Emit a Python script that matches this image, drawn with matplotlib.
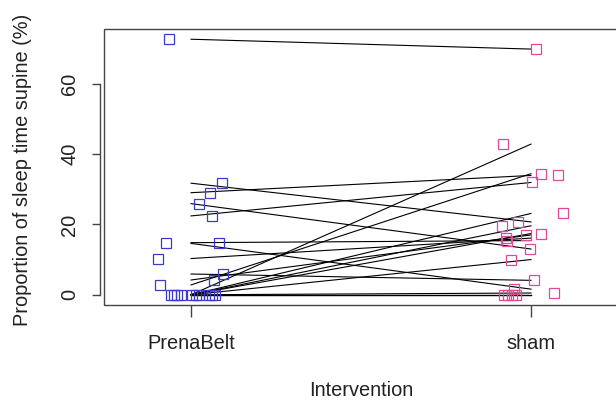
import matplotlib
matplotlib.use("Agg")
import matplotlib.pyplot as plt
from matplotlib.patches import Rectangle

plt.rcParams['font.family'] = ['Liberation Sans', 'DejaVu Sans']

groups = ["PrenaBelt", "sham"]

# paired values per participant (PrenaBelt, sham)
prenabelt = [72.6, 31.7, 29.0, 25.9, 22.4, 14.8, 14.6, 10.3, 5.9, 4.2, 2.8,
             0.0, 0.0, 0.0, 0.0, 0.0, 0.0, 0.0, 0.0, 0.0, 0.0]
sham = [69.8, 20.7, 33.9, 13.0, 31.9, 15.4, 1.6, 16.1, 4.1, 17.0, 34.4,
        42.8, 23.1, 19.6, 17.4, 10.0, 0.5, 0.0, 0.0, 0.0, 0.0]

# jittered horizontal positions of the points
prenabelt_x = [0.935, 1.090, 1.055, 1.024, 1.061, 1.081, 0.925, 0.902, 1.095, 1.068, 0.909,
               0.941, 0.950, 0.959, 0.971, 1.003, 1.015, 1.024, 1.053, 1.062, 1.071]
sham_x = [2.016, 1.962, 2.080, 1.998, 2.004, 1.930, 1.951, 1.926, 2.010, 1.985, 2.030,
          1.917, 2.095, 1.914, 2.030, 1.941, 2.068, 1.920, 1.932, 1.944, 1.956]

yticks = [0, 20, 40, 60]

W, H = 616, 401
fig = plt.figure(figsize=(W / 100, H / 100), dpi=100)
ax = fig.add_axes([104 / W, 1 - 305 / H, 514 / W, 276 / H])

for a, b in zip(prenabelt, sham):
    ax.plot([1, 2], [a, b], color='black', lw=0.8, zorder=2)

ax.plot(prenabelt_x, prenabelt, ls='none', marker='s', ms=7, mfc='none',
        mec='#3a3ad0', mew=0.9, zorder=3)
ax.plot(sham_x, sham, ls='none', marker='s', ms=7, mfc='none',
        mec='#e0489c', mew=0.9, zorder=3)

ax.set_xlim(0.744, 2.256)
ymax = max(max(prenabelt), max(sham))
ext = 0.04 * ymax
ax.set_ylim(-ext, ymax + ext)

# box
for s in ['top', 'right', 'bottom']:
    ax.spines[s].set_visible(False)
ax.add_patch(Rectangle((0, 0), 1, 1, transform=ax.transAxes, fill=False,
                       ec='#444444', lw=1.0, clip_on=False, zorder=5))

ax.spines['left'].set_position(('outward', 3))
ax.spines['left'].set_bounds(yticks[0], yticks[-1])
ax.spines['left'].set_color('#444444')
ax.spines['left'].set_linewidth(1.0)

ax.set_yticks(yticks)
ax.set_yticklabels([str(v) for v in yticks], rotation=90, va='center')
ax.set_xticks([1, 2])
ax.set_xticklabels(groups)

ax.tick_params(axis='y', length=5.8, width=1.0, color='#444444', pad=9,
               labelsize=14.4, labelcolor='#222222')
ax.tick_params(axis='x', length=8.6, width=1.0, color='#444444', pad=12,
               labelsize=14.4, labelcolor='#222222')

fig.text(23 / W, 1 - 170 / H, "Proportion of sleep time supine (%)", rotation=90,
         ha='center', va='center', fontsize=14.4, color='#222222')
fig.text(361 / W, 1 - 391 / H, "Intervention", ha='center', va='center',
         fontsize=14.4, color='#222222')

fig.savefig("out.png", dpi=100, facecolor='white')
